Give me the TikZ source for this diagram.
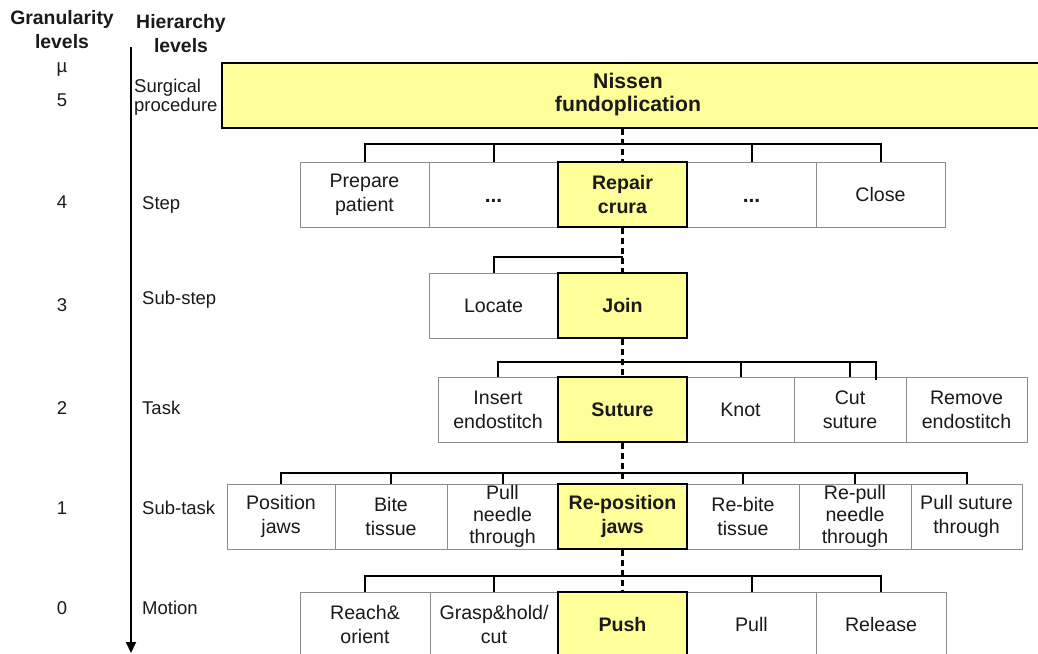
\documentclass[tikz,border=0pt]{standalone}
\usepackage{fontspec}
\setmainfont{Liberation Sans}
\usetikzlibrary{arrows.meta}
\definecolor{hl}{HTML}{FFFF99}
\definecolor{edge}{HTML}{8C8C8C}
\definecolor{ink}{HTML}{1A1A1A}
\begin{document}
\begin{tikzpicture}[x=1pt,y=-1pt,
  txt/.style={font=\fontsize{19.6}{24}\selectfont, align=center, text=ink},
  wbox/.style={txt, draw=edge, line width=1pt, fill=white, minimum height=65pt, inner sep=0pt},
  ybox/.style={txt, draw=black, line width=2.4pt, fill=hl, minimum height=65pt, inner sep=0pt,
               font=\fontsize{19.6}{24}\selectfont\bfseries},
  tight/.style={font=\fontsize{19.6}{22}\selectfont},
  dotsbox/.style={wbox, text height=16pt, text depth=0pt, font=\fontsize{21}{24}\selectfont\bfseries},
  bus/.style={line width=2pt, black},
  spine/.style={line width=3pt, black, dash pattern=on 6pt off 4pt},
  lvl/.style={font=\fontsize{18.5}{19}\selectfont, text=ink, inner sep=0pt},
  head/.style={font=\fontsize{19.4}{24}\selectfont\bfseries, align=center, text=ink, inner sep=0pt},
]
\useasboundingbox (0,0) rectangle (1038,653);
\clip (0,0) rectangle (1038,653);
\fill[white] (0,0) rectangle (1038,653);

% column headings and level numbers
\node[head] (granhead) at (62,30) {Granularity\\levels};
\node[head] (hierhead) at (181,34) {Hierarchy\\levels};
\node[lvl] (gmu) at (62,70) {µ};
\node[lvl] (g5) at (62,100) {5};
\node[lvl] (g4) at (62,202) {4};
\node[lvl] (g3) at (62,305) {3};
\node[lvl] (g2) at (62,408) {2};
\node[lvl] (g1) at (62,508) {1};
\node[lvl] (g0) at (62,608) {0};

% hierarchy axis
\coordinate (axTop) at (131,47);
\coordinate (axBot) at (131,653);
\draw[line width=2pt, -{Triangle[length=11pt,width=10pt]}] (axTop) -- (axBot);

\node[lvl, anchor=west, align=left] (hSurg) at (134,97) {Surgical\\procedure};
\node[lvl, anchor=base west] (hStep) at (142,209) {Step};
\node[lvl, anchor=base west] (hSubstep) at (142,304) {Sub-step};
\node[lvl, anchor=base west] (hTask) at (142,414) {Task};
\node[lvl, anchor=base west] (hSubtask) at (142,514) {Sub-task};
\node[lvl, anchor=base west] (hMotion) at (142,614) {Motion};

% level 5: procedure
\node[ybox, minimum width=820pt] (nissen) at (632,95.5) {};
\node[txt, font=\fontsize{21.2}{23}\selectfont\bfseries] (nissentxt) at (628,95) {Nissen\\fundoplication};

% level 4: steps
\node[wbox, minimum width=129pt] (prep) at (364.5,194.5) {Prepare\\patient};
\node[dotsbox, minimum width=129pt] (sdotsA) at (493.5,194.5) {...};
\node[dotsbox, minimum width=129pt] (sdotsB) at (751.5,194.5) {...};
\node[wbox, minimum width=129pt] (close) at (880.5,194.5) {Close};
\node[ybox, minimum width=129pt] (repair) at (622.5,194.5) {Repair\\crura};

% level 3: sub-steps
\node[wbox, minimum width=129pt] (locate) at (493.5,305.5) {Locate};
\node[ybox, minimum width=129pt] (join) at (622.5,305.5) {Join};

% level 2: tasks
\node[wbox, minimum width=120pt] (insert) at (498,409.5) {Insert\\endostitch};
\node[wbox, minimum width=107pt] (knot) at (740.5,409.5) {Knot};
\node[wbox, minimum width=112pt] (cut) at (850,409.5) {Cut\\suture};
\node[wbox, minimum width=121pt] (remove) at (966.5,409.5) {Remove\\endostitch};
\node[ybox, minimum width=129pt] (suture) at (622.5,409.5) {Suture};

% level 1: sub-tasks
\node[wbox, minimum width=108pt] (position) at (281,516.5) {Position\\jaws};
\node[wbox, minimum width=112pt] (bite) at (391,516.5) {Bite\\tissue};
\node[wbox, tight, minimum width=111pt] (pullneedle) at (502.5,516.5) {Pull\\needle\\through};
\node[wbox, minimum width=112pt] (rebite) at (743,516.5) {Re-bite\\tissue};
\node[wbox, tight, minimum width=112pt] (repull) at (855,516.5) {Re-pull\\needle\\through};
\node[wbox, minimum width=111pt] (pullsuture) at (966.5,516.5) {Pull suture\\through};
\node[ybox, minimum width=129pt] (repos) at (622.5,516.5) {Re-position\\jaws};

% level 0: motions
\node[wbox, minimum width=130pt] (reach) at (365,624.5) {Reach\&\\orient};
\node[wbox, minimum width=128pt] (grasp) at (494,624.5) {Grasp\&hold/\\cut};
\node[wbox, minimum width=129pt] (pull) at (751.5,624.5) {Pull};
\node[wbox, minimum width=130pt] (release) at (881,624.5) {Release};
\node[ybox, minimum width=129pt] (push) at (622.5,624.5) {Push};

% bus lines
\coordinate (busA) at (0,144);
\coordinate (busB) at (0,257);
\coordinate (busC) at (0,362);
\coordinate (busD) at (0,473);
\coordinate (busE) at (0,576);
\coordinate (cutB) at (876,380);

\draw[bus] (prep.north) -- (prep.north |- busA) -- (close.north |- busA) -- (close.north);
\draw[bus] (sdotsA.north) -- (sdotsA.north |- busA);
\draw[bus] (sdotsB.north) -- (sdotsB.north |- busA);

\draw[bus] (locate.north) -- (locate.north |- busB) -- (join.north |- busB);

\draw[bus] (insert.north) -- (insert.north |- busC) -- (cutB |- busC) -- (cutB);
\draw[bus] (knot.north) -- (knot.north |- busC);
\draw[bus] (cut.north) -- (cut.north |- busC);

\draw[bus] (position.north) -- (position.north |- busD) -- (pullsuture.north |- busD) -- (pullsuture.north);
\draw[bus] (bite.north) -- (bite.north |- busD);
\draw[bus] (pullneedle.north) -- (pullneedle.north |- busD);
\draw[bus] (rebite.north) -- (rebite.north |- busD);
\draw[bus] (repull.north) -- (repull.north |- busD);

\draw[bus] (reach.north) -- (reach.north |- busE) -- (release.north |- busE) -- (release.north);
\draw[bus] (grasp.north) -- (grasp.north |- busE);
\draw[bus] (pull.north) -- (pull.north |- busE);

% dashed spine through the highlighted path
\draw[spine] (repair.north |- nissen.south) -- (repair.north);
\draw[spine] (repair.south) -- (join.north);
\draw[spine] (join.south) -- (suture.north);
\draw[spine] (suture.south) -- (repos.north);
\draw[spine] (repos.south) -- (push.north);
\end{tikzpicture}
\end{document}
